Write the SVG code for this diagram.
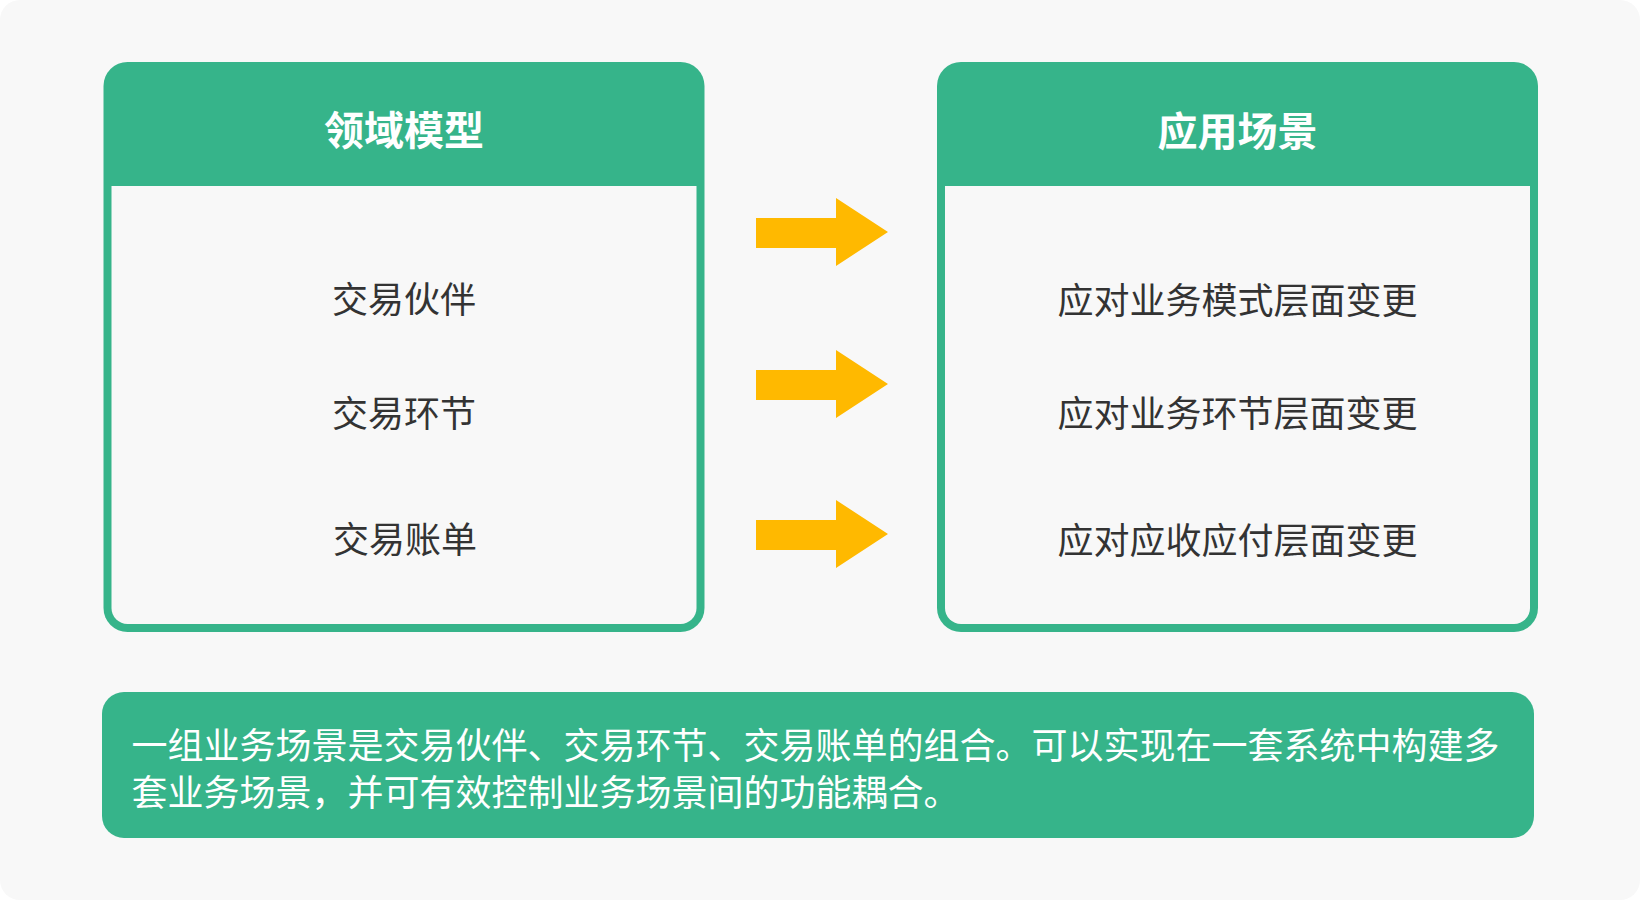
<svg xmlns="http://www.w3.org/2000/svg" width="1640" height="900" viewBox="0 0 1640 900">
<style>
.bg{fill:#f8f8f8}
.green{fill:#36b48a}
.body{fill:#f8f8f8}
.title{font-family:"Noto Sans CJK SC","Noto Sans",sans-serif;font-size:40px;font-weight:700;fill:#ffffff;text-anchor:middle;dominant-baseline:central}
.item{font-family:"Noto Sans CJK SC","Noto Sans",sans-serif;font-size:36px;fill:#333333;text-anchor:middle;dominant-baseline:central}
.note{font-family:"Noto Sans CJK SC","Noto Sans",sans-serif;font-size:36px;fill:#ffffff;dominant-baseline:central}
.arrow{fill:#ffb900}
</style>
<rect width="1640" height="900" fill="#ffffff"/>
<rect class="bg" x="0" y="0" width="1640" height="900" rx="20"/>
<g id="domain-model">
<rect class="green" x="103.5" y="62" width="601" height="570" rx="24"/>
<path class="body" d="M111.5,186 H696.5 V608 A16,16 0 0 1 680.5,624 H127.5 A16,16 0 0 1 111.5,608 Z"/>
<text class="title" x="404" y="128">领域模型</text>
<text class="item" x="404" y="297">交易伙伴</text>
<text class="item" x="404" y="411">交易环节</text>
<text class="item" x="405" y="537">交易账单</text>
</g>
<g id="scenarios">
<rect class="green" x="937" y="62" width="601" height="570" rx="24"/>
<path class="body" d="M945,186 H1530 V608 A16,16 0 0 1 1514,624 H961 A16,16 0 0 1 945,608 Z"/>
<text class="title" x="1237.5" y="128.5">应用场景</text>
<text class="item" x="1237.5" y="298">应对业务模式层面变更</text>
<text class="item" x="1237.5" y="411">应对业务环节层面变更</text>
<text class="item" x="1237.5" y="537.5">应对应收应付层面变更</text>
</g>
<g id="connectors">
<path class="arrow" d="M756,218 H836 V198 L888,232 L836,266 V248 H756 Z"/>
<path class="arrow" d="M756,370 H836 V350 L888,384 L836,418 V400 H756 Z"/>
<path class="arrow" d="M756,520 H836 V500 L888,534 L836,568 V550 H756 Z"/>
</g>
<g id="summary">
<rect class="green" x="102" y="692" width="1432" height="146" rx="22"/>
<text class="note" x="131.5" y="742.5">一组业务场景是交易伙伴、交易环节、交易账单的组合。可以实现在一套系统中构建多</text>
<text class="note" x="131.5" y="790">套业务场景，并可有效控制业务场景间的功能耦合。</text>
</g>
</svg>
